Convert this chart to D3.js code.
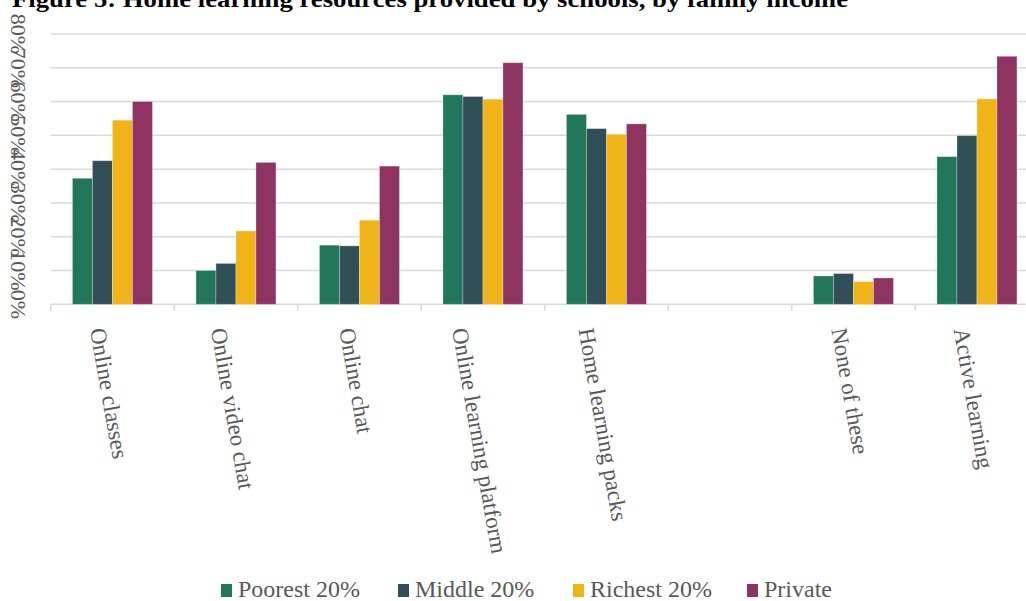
<!DOCTYPE html>
<html>
<head>
<meta charset="utf-8">
<script src="https://cdn.jsdelivr.net/npm/d3@7"></script>
<style>
  html, body { margin: 0; padding: 0; background: #fff; overflow: hidden; }
  svg { display: block; font-family: "Liberation Serif", "Times New Roman", serif; }
</style>
</head>
<body>
<svg id="chart" width="1026" height="601"></svg>
<script>
// Categories (the sixth slot is an unlabelled empty group)
const categories = [
  "Online classes",
  "Online video chat",
  "Online chat",
  "Online learning platform",
  "Home learning packs",
  "",
  "None of these",
  "Active learning"
];

const seriesNames = ["Poorest 20%", "Middle 20%", "Richest 20%", "Private"];

// Share of pupils per resource, by family income group
const poorest = [0.373, 0.100, 0.175, 0.620, 0.562, null, 0.084, 0.437];
const middle  = [0.425, 0.121, 0.173, 0.615, 0.520, null, 0.091, 0.499];
const richest = [0.545, 0.217, 0.249, 0.607, 0.503, null, 0.067, 0.608];
const privat  = [0.600, 0.420, 0.409, 0.715, 0.534, null, 0.078, 0.734];

const yTicks = [0, 0.1, 0.2, 0.3, 0.4, 0.5, 0.6, 0.7, 0.8];

const colors = ["#22765a", "#314f56", "#f0b419", "#8f3360"];

const seriesValues = [poorest, middle, richest, privat];

const svg = d3.select("#chart");

const x0Left = 50.7, step = 123.5;
const x = d3.scaleBand()
  .domain(categories.map((c, i) => i))
  .range([x0Left, x0Left + step * categories.length])
  .paddingInner(0).paddingOuter(0);

const xs = d3.scaleBand()
  .domain(seriesNames)
  .range([0, x.bandwidth()])
  .paddingInner(0)
  .paddingOuter((x.bandwidth() / 20 - seriesNames.length) / 2);

const y = d3.scaleLinear().domain([0, 0.8]).range([304.3, 34]);

// Title (sits right at the top edge)
svg.append("text")
  .attr("x", 12).attr("y", 6.5)
  .attr("font-size", 24).attr("font-weight", "bold").attr("fill", "#000")
  .attr("textLength", 836).attr("lengthAdjust", "spacingAndGlyphs")
  .text("Figure 5: Home learning resources provided by schools, by family income");

// Horizontal gridlines
svg.append("g")
  .selectAll("line")
  .data(yTicks)
  .join("line")
  .attr("x1", x.range()[0]).attr("x2", x.range()[1])
  .attr("y1", d => y(d)).attr("y2", d => y(d))
  .attr("stroke", "#d9d9d9").attr("stroke-width", 1.5);

// Y tick labels, turned to read downwards
svg.append("g")
  .selectAll("text")
  .data(yTicks)
  .join("text")
  .attr("transform", d => `translate(11,${y(d)}) rotate(90)`)
  .attr("text-anchor", "middle")
  .attr("font-size", 22)
  .attr("fill", "#595959")
  .text(d => d3.format(".0%")(d));

// Category tick marks on the baseline
const tickPos = d3.range(categories.length + 1).map(i => x0Left + i * step);
svg.append("g")
  .selectAll("line")
  .data(tickPos)
  .join("line")
  .attr("x1", d => d).attr("x2", d => d)
  .attr("y1", y(0)).attr("y2", y(0) + 6.5)
  .attr("stroke", "#d9d9d9").attr("stroke-width", 1.5);

// Bars
const groups = svg.append("g")
  .selectAll("g")
  .data(categories.map((c, i) => i))
  .join("g")
  .attr("transform", i => `translate(${x(i)},0)`);

groups.selectAll("rect")
  .data(i => seriesNames.map((s, k) => ({ s, k, v: seriesValues[k][i] })).filter(d => d.v != null))
  .join("rect")
  .attr("x", d => xs(d.s))
  .attr("width", xs.bandwidth())
  .attr("y", d => y(d.v))
  .attr("height", d => y(0) - y(d.v))
  .attr("fill", d => colors[d.k])
  .attr("stroke", "rgba(255,255,255,0.35)")
  .attr("stroke-width", 0.8);

// Category labels, slanted
const angle = 80;
const cosA = Math.cos(angle * Math.PI / 180);
const labels = svg.append("g")
  .selectAll("text")
  .data(categories.map((c, i) => ({ c, i })).filter(d => d.c !== ""))
  .join("text")
  .attr("font-size", 23)
  .attr("fill", "#595959")
  .text(d => d.c);

labels.attr("transform", function (d) {
  const L = this.getComputedTextLength();
  const cx = x(d.i) + x.bandwidth() / 2;
  const ax = cx - L * cosA / 2 - 11;
  return `translate(${ax},329.5) rotate(${angle})`;
});

// Legend
const legendItems = [
  { name: seriesNames[0], sx: 221, tx: 238 },
  { name: seriesNames[1], sx: 398, tx: 415 },
  { name: seriesNames[2], sx: 573, tx: 590 },
  { name: seriesNames[3], sx: 747, tx: 764 }
];
const leg = svg.append("g");
leg.selectAll("rect")
  .data(legendItems)
  .join("rect")
  .attr("x", d => d.sx).attr("y", 584)
  .attr("width", 11).attr("height", 13)
  .attr("fill", (d, i) => colors[i]);
leg.selectAll("text")
  .data(legendItems)
  .join("text")
  .attr("x", d => d.tx).attr("y", 596.5)
  .attr("font-size", 24)
  .attr("fill", "#595959")
  .text(d => d.name);
</script>
</body>
</html>
